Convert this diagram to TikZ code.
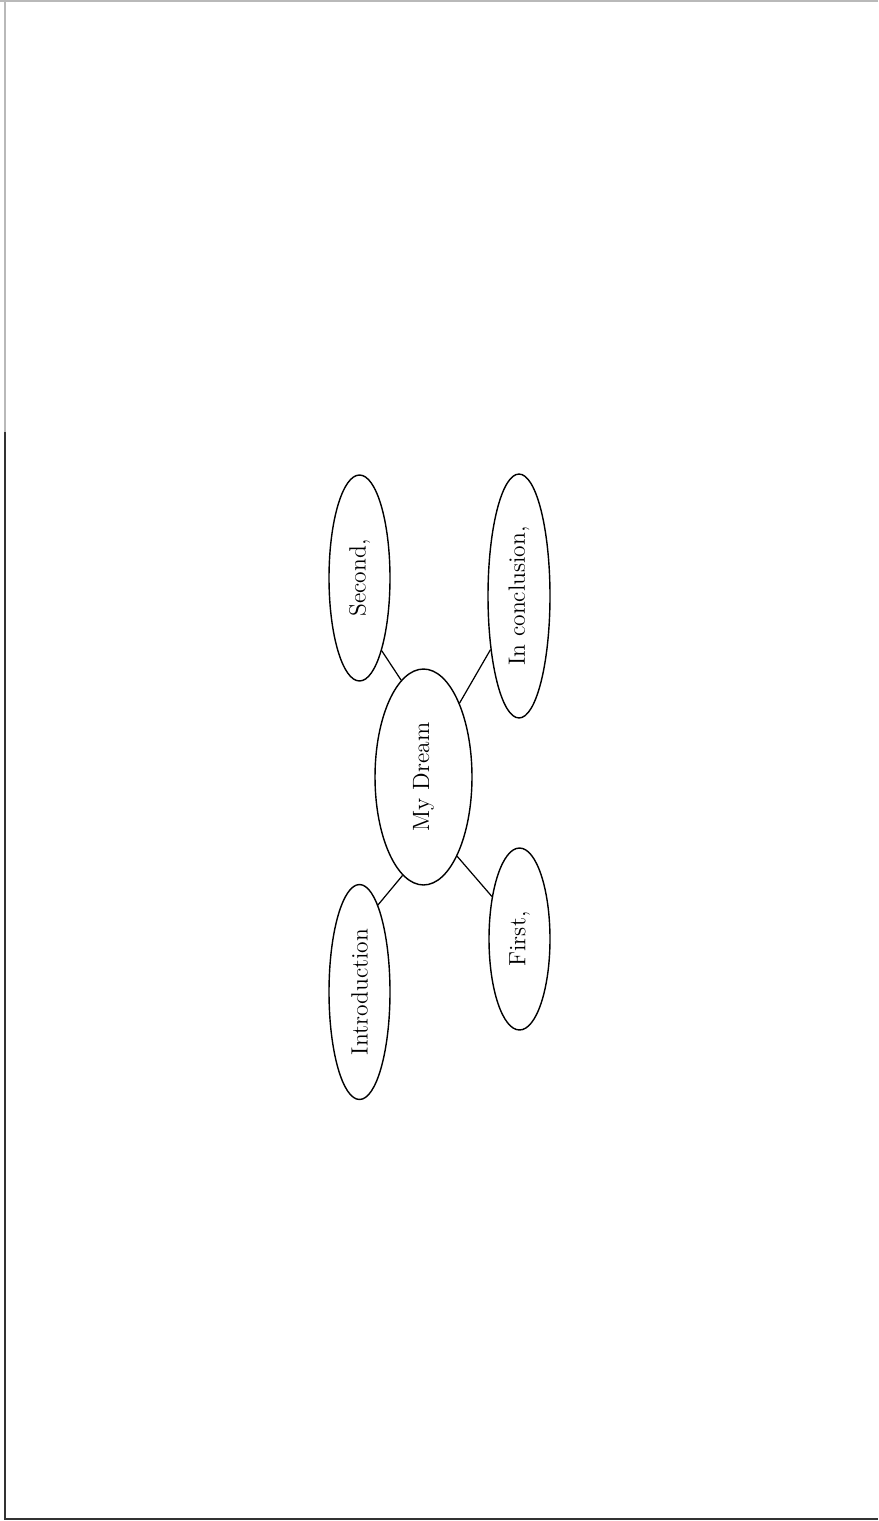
\documentclass[tikz,border=0pt]{standalone}
\usepackage{graphicx}
\usetikzlibrary{shapes.geometric}

\tikzset{
  bubble/.style={draw, ellipse, line width=0.8pt, inner sep=0pt,
                 font=\fontsize{13.4}{16}\selectfont},
  link/.style={line width=0.7pt}
}

\begin{document}
\begin{tikzpicture}
  \def\px{0.02}
  \colorlet{frameA}{gray!55}
  \colorlet{frameB}{black!80}

  \useasboundingbox (0,0) rectangle ({878*\px},{-1521*\px});

  %--- page frame (top, left, bottom) ---
  \draw[frameA, line width=1pt]   (0,{-1*\px}) -- ({878*\px},{-1*\px});
  \draw[frameA, line width=1.2pt] ({5*\px},0) -- ({5*\px},{-432*\px});
  \draw[frameB, line width=1.2pt] ({5*\px},{-432*\px}) -- ({5*\px},{-1519*\px})
                                  -- ({878*\px},{-1519*\px});

  %--- centre ---
  \node[bubble, minimum width=1.94cm, minimum height=4.32cm] (dream)
      at ({423.5*\px},{-777*\px}) {\rotatebox{90}{My Dream}};

  %--- branches ---
  \node[bubble, minimum width=1.22cm, minimum height=4.12cm] (second)
      at ({359.5*\px},{-578*\px}) {\rotatebox{90}{Second,}};
  \node[bubble, minimum width=1.24cm, minimum height=4.88cm] (concl)
      at ({519*\px},{-596*\px})   {\rotatebox{90}{In conclusion,}};
  \node[bubble, minimum width=1.22cm, minimum height=4.30cm] (intro)
      at ({359.5*\px},{-992*\px}) {\rotatebox{90}{Introduction}};
  \node[bubble, minimum width=1.22cm, minimum height=3.64cm] (first)
      at ({519.5*\px},{-939*\px}) {\rotatebox{90}{First,}};

  %--- connectors ---
  \draw[link] (second.-73)  -- (dream.103);
  \draw[link] (concl.-118)  -- (dream.64);
  \draw[link] (intro.78.6)  -- (dream.-102);
  \draw[link] (first.123)   -- (dream.-67);

\end{tikzpicture}
\end{document}
